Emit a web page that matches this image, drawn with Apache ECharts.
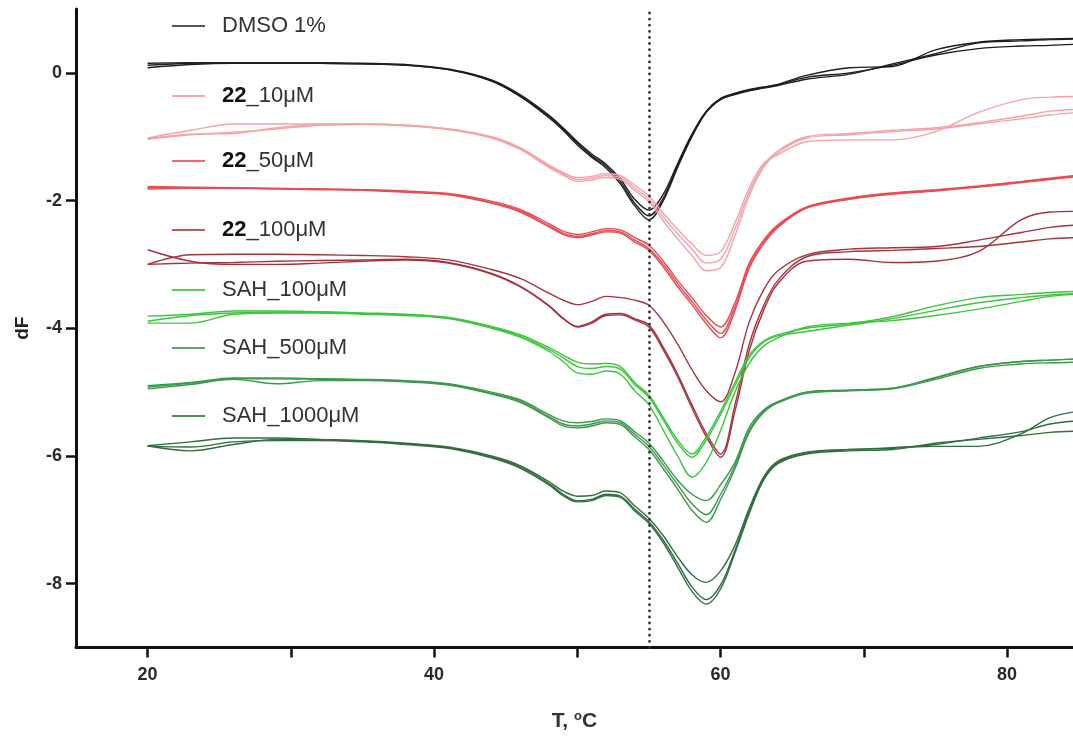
<!DOCTYPE html>
<html><head><meta charset="utf-8">
<script src="https://cdn.jsdelivr.net/npm/echarts@6/dist/echarts.min.js"></script>
<style>html,body{margin:0;padding:0;background:#fff}#c{width:1073px;height:737px}</style>
</head><body><div id="c"></div>
<script>
// Temperature grid (°C)
const temps = [20,23,26,29,32,35,38,41,44,46,48,49,50,51,52,53,54,55,56,57,58,59,60,61,62,63,64,66,69,72,75,78,81,83,85];
// Tick values
const xTickLabels = [20,40,60,80];
const xTicks = [20,30,40,50,60,70,80];
const yTickLabels = [0,-2,-4,-6,-8];
const refTemp = 55;
// Conditions (legend names)
const names = ['DMSO 1%','22_10μM','22_50μM','22_100μM','SAH_100μM','SAH_500μM','SAH_1000μM'];

// dF replicates
const dmsoA = [0.15,0.16,0.16,0.16,0.16,0.15,0.13,0.06,-0.11,-0.34,-0.66,-0.86,-1.08,-1.27,-1.43,-1.66,-1.98,-2.15,-1.9,-1.42,-0.96,-0.6,-0.4,-0.32,-0.26,-0.22,-0.18,-0.04,0.08,0.1,0.36,0.48,0.52,0.53,0.54];
const dmsoB = [0.08,0.13,0.15,0.15,0.15,0.14,0.12,0.05,-0.13,-0.37,-0.7,-0.9,-1.13,-1.32,-1.49,-1.74,-2.08,-2.3,-2.0,-1.48,-1.0,-0.62,-0.42,-0.34,-0.28,-0.24,-0.2,-0.1,-0.02,0.14,0.3,0.47,0.5,0.52,0.53];
const dmsoC = [0.12,0.15,0.16,0.15,0.15,0.14,0.12,0.05,-0.12,-0.36,-0.68,-0.88,-1.1,-1.3,-1.46,-1.7,-2.04,-2.24,-1.96,-1.45,-0.98,-0.61,-0.41,-0.33,-0.27,-0.23,-0.19,-0.07,0.0,0.12,0.28,0.38,0.42,0.43,0.45];

const c10A = [-1.02,-0.9,-0.8,-0.8,-0.8,-0.8,-0.82,-0.88,-1.0,-1.17,-1.44,-1.56,-1.64,-1.62,-1.58,-1.61,-1.76,-1.93,-2.2,-2.45,-2.68,-2.86,-2.8,-2.35,-1.8,-1.42,-1.28,-1.08,-1.05,-1.05,-0.92,-0.62,-0.42,-0.38,-0.37];
const c10B = [-1.03,-0.96,-0.95,-0.86,-0.81,-0.8,-0.82,-0.88,-1.01,-1.18,-1.46,-1.58,-1.67,-1.65,-1.61,-1.64,-1.8,-1.98,-2.26,-2.52,-2.76,-2.98,-2.92,-2.45,-1.86,-1.45,-1.22,-1.0,-0.95,-0.9,-0.86,-0.78,-0.68,-0.6,-0.57];
const c10C = [-1.04,-0.97,-0.93,-0.88,-0.82,-0.81,-0.83,-0.89,-1.02,-1.2,-1.48,-1.6,-1.7,-1.68,-1.64,-1.67,-1.84,-2.02,-2.32,-2.6,-2.86,-3.1,-3.05,-2.55,-1.92,-1.48,-1.25,-1.02,-0.97,-0.92,-0.88,-0.8,-0.72,-0.66,-0.62];

const c50A = [-1.78,-1.79,-1.8,-1.81,-1.82,-1.83,-1.85,-1.89,-2.01,-2.14,-2.36,-2.48,-2.53,-2.49,-2.44,-2.46,-2.58,-2.7,-2.95,-3.25,-3.52,-3.8,-3.98,-3.6,-2.98,-2.62,-2.38,-2.1,-1.96,-1.88,-1.83,-1.77,-1.7,-1.65,-1.6];
const c50B = [-1.8,-1.8,-1.8,-1.81,-1.82,-1.83,-1.86,-1.9,-2.03,-2.16,-2.39,-2.51,-2.56,-2.52,-2.47,-2.49,-2.62,-2.75,-3.0,-3.3,-3.58,-3.87,-4.08,-3.66,-3.02,-2.65,-2.4,-2.11,-1.97,-1.89,-1.84,-1.78,-1.71,-1.66,-1.61];
const c50C = [-1.82,-1.81,-1.81,-1.82,-1.83,-1.84,-1.87,-1.91,-2.04,-2.18,-2.41,-2.53,-2.58,-2.54,-2.49,-2.51,-2.65,-2.78,-3.04,-3.35,-3.63,-3.93,-4.15,-3.72,-3.06,-2.68,-2.42,-2.12,-1.98,-1.9,-1.85,-1.79,-1.72,-1.67,-1.62];

const c100A = [-3.0,-2.85,-2.84,-2.84,-2.85,-2.86,-2.88,-2.93,-3.08,-3.22,-3.45,-3.56,-3.63,-3.58,-3.5,-3.52,-3.56,-3.64,-3.9,-4.25,-4.65,-4.98,-5.15,-4.7,-3.9,-3.4,-3.1,-2.85,-2.76,-2.74,-2.72,-2.62,-2.5,-2.42,-2.38];
const c100B = [-2.77,-2.95,-3.0,-3.0,-2.98,-2.95,-2.93,-2.98,-3.15,-3.35,-3.65,-3.85,-3.97,-3.9,-3.78,-3.77,-3.85,-3.95,-4.3,-4.72,-5.2,-5.65,-5.97,-5.2,-4.25,-3.65,-3.25,-2.88,-2.8,-2.78,-2.75,-2.72,-2.65,-2.6,-2.58];
const c100C = [-3.0,-2.98,-2.97,-2.95,-2.94,-2.93,-2.92,-2.97,-3.14,-3.34,-3.64,-3.84,-3.98,-3.92,-3.8,-3.79,-3.87,-3.98,-4.34,-4.76,-5.25,-5.7,-6.02,-5.3,-4.35,-3.72,-3.3,-2.95,-2.92,-2.97,-2.95,-2.8,-2.3,-2.18,-2.17];

const s100A = [-3.81,-3.78,-3.73,-3.73,-3.74,-3.76,-3.78,-3.83,-3.97,-4.1,-4.3,-4.42,-4.53,-4.56,-4.55,-4.6,-4.85,-5.05,-5.4,-5.75,-5.97,-5.7,-5.3,-4.85,-4.42,-4.2,-4.1,-4.0,-3.93,-3.82,-3.65,-3.52,-3.47,-3.44,-3.42];
const s100B = [-3.89,-3.8,-3.76,-3.75,-3.75,-3.77,-3.79,-3.84,-3.98,-4.12,-4.33,-4.46,-4.6,-4.63,-4.6,-4.64,-4.88,-5.08,-5.44,-5.8,-6.02,-5.75,-5.35,-4.9,-4.46,-4.22,-4.12,-4.05,-3.95,-3.85,-3.72,-3.6,-3.52,-3.48,-3.45];
const s100C = [-3.92,-3.92,-3.78,-3.76,-3.76,-3.78,-3.8,-3.85,-4.0,-4.14,-4.36,-4.52,-4.7,-4.72,-4.67,-4.72,-4.98,-5.2,-5.6,-6.0,-6.33,-6.1,-5.6,-5.0,-4.55,-4.28,-4.15,-3.98,-3.92,-3.88,-3.8,-3.7,-3.58,-3.5,-3.47];

const s500A = [-4.9,-4.85,-4.78,-4.78,-4.79,-4.8,-4.82,-4.87,-5.0,-5.12,-5.35,-5.45,-5.48,-5.46,-5.42,-5.45,-5.62,-5.8,-6.08,-6.38,-6.6,-6.7,-6.45,-6.1,-5.55,-5.28,-5.15,-5.0,-4.97,-4.94,-4.77,-4.6,-4.52,-4.5,-4.48];
const s500B = [-4.92,-4.86,-4.79,-4.79,-4.8,-4.81,-4.83,-4.88,-5.02,-5.14,-5.38,-5.5,-5.53,-5.5,-5.45,-5.48,-5.66,-5.85,-6.14,-6.45,-6.75,-6.92,-6.6,-6.15,-5.6,-5.3,-5.16,-5.0,-4.97,-4.94,-4.78,-4.6,-4.52,-4.5,-4.48];
const s500C = [-4.95,-4.88,-4.8,-4.87,-4.82,-4.82,-4.84,-4.89,-5.03,-5.16,-5.4,-5.53,-5.56,-5.53,-5.48,-5.51,-5.7,-5.9,-6.2,-6.52,-6.85,-7.04,-6.68,-6.2,-5.63,-5.32,-5.17,-5.02,-4.98,-4.95,-4.8,-4.63,-4.56,-4.54,-4.53];

const s1000A = [-5.84,-5.78,-5.72,-5.72,-5.74,-5.76,-5.8,-5.86,-6.0,-6.15,-6.4,-6.55,-6.63,-6.62,-6.55,-6.58,-6.78,-6.98,-7.25,-7.58,-7.86,-7.98,-7.8,-7.4,-6.82,-6.33,-6.08,-5.94,-5.9,-5.88,-5.85,-5.85,-5.65,-5.4,-5.3];
const s1000B = [-5.84,-5.92,-5.82,-5.74,-5.75,-5.77,-5.81,-5.87,-6.02,-6.17,-6.43,-6.6,-6.7,-6.68,-6.6,-6.63,-6.83,-7.03,-7.32,-7.68,-8.05,-8.25,-8.02,-7.48,-6.86,-6.36,-6.1,-5.95,-5.9,-5.87,-5.82,-5.72,-5.62,-5.5,-5.45];
const s1000C = [-5.85,-5.86,-5.78,-5.76,-5.76,-5.78,-5.82,-5.88,-6.03,-6.19,-6.45,-6.62,-6.72,-6.7,-6.62,-6.65,-6.86,-7.06,-7.36,-7.74,-8.12,-8.32,-8.08,-7.52,-6.9,-6.38,-6.12,-5.97,-5.92,-5.9,-5.8,-5.74,-5.68,-5.63,-5.61];

const groups = [
  {name: names[0], color: '#1e1e1e', legendColor: '#555', reps: [dmsoA, dmsoB, dmsoC], legendY: 28},
  {name: names[1], color: '#f4a2a8', legendColor: '#f6aab0', reps: [c10A, c10B, c10C], legendY: 98},
  {name: names[2], color: '#ec4a52', legendColor: '#ee6a70', reps: [c50A, c50B, c50C], legendY: 163},
  {name: names[3], color: '#a8323c', legendColor: '#b85a62', reps: [c100A, c100B, c100C], legendY: 232},
  {name: names[4], color: '#3cc63c', legendColor: '#5acc5a', reps: [s100A, s100B, s100C], legendY: 292},
  {name: names[5], color: '#3a9a4a', legendColor: '#5aa866', reps: [s500A, s500B, s500C], legendY: 350},
  {name: names[6], color: '#2f6e3e', legendColor: '#4f8a5c', reps: [s1000A, s1000B, s1000C], legendY: 418}
];

const series = [];
groups.forEach((g, gi) => {
  g.reps.forEach((r, ri) => {
    const s = {
      name: g.name, type: 'line', smooth: 0.35, symbol: 'none',
      data: temps.map((t, i) => [t, r[i]]),
      lineStyle: {width: 1.4, color: g.color}, itemStyle: {color: g.legendColor},
      z: 3
    };
    if (gi === 0 && ri === 0) {
      s.markLine = {
        silent: true, symbol: 'none', label: {show: false},
        lineStyle: {type: [0.1, 6], color: '#333', width: 2.8, cap: 'round'},
        data: [{xAxis: refTemp}]
      };
    }
    series.push(s);
  });
});

const legends = groups.map(g => ({
  data: [g.name], left: 172, top: g.legendY - 13, padding: 0,
  icon: 'rect', itemWidth: 33, itemHeight: 2, itemGap: 0,
  selectedMode: false,
  formatter: n => n.startsWith('22') ? '{b|22}{n|' + n.slice(2) + '}' : '{n|' + n + '}',
  textStyle: {
    padding: [0, 0, 0, 12],
    rich: {
      b: {fontFamily: 'Liberation Sans', fontSize: 22, fontWeight: 'bold', color: '#111'},
      n: {fontFamily: 'Liberation Sans', fontSize: 22, color: '#333'}
    }
  }
}));

const chart = echarts.init(document.getElementById('c'), null, {renderer: 'canvas'});
chart.setOption({
  animation: false,
  backgroundColor: '#fff',
  grid: {left: 76, right: 0, top: 9, bottom: 89},
  legend: legends,
  xAxis: {
    type: 'value', min: 15, max: 84.6,
    name: 'T, {s|o}C', nameLocation: 'middle', nameGap: 62,
    nameTextStyle: {fontFamily: 'Liberation Sans', fontSize: 21, fontWeight: 'bold', color: '#333',
      rich: {s: {fontSize: 13, fontWeight: 'bold', verticalAlign: 'top', padding: [0,0,11,0], color: '#333'}}},
    axisLine: {onZero: false, lineStyle: {color: '#111', width: 3}},
    axisTick: {show: true, customValues: xTicks, length: 10, lineStyle: {width: 2.5, color: '#111'}},
    axisLabel: {customValues: xTickLabels, fontFamily: 'Liberation Sans', fontSize: 18, fontWeight: 'bold', color: '#2a2a2a', margin: 19},
    splitLine: {show: false}
  },
  yAxis: {
    type: 'value', min: -9, max: 1,
    name: 'dF', nameLocation: 'middle', nameGap: 44,
    nameTextStyle: {fontFamily: 'Liberation Sans', fontSize: 19, fontWeight: 'bold', color: '#222'},
    axisLine: {show: true, onZero: false, lineStyle: {color: '#111', width: 3}},
    axisTick: {show: true, customValues: yTickLabels, length: 10, lineStyle: {width: 2.5, color: '#111'}},
    axisLabel: {customValues: yTickLabels, fontFamily: 'Liberation Sans', fontSize: 18, fontWeight: 'bold', color: '#2a2a2a', margin: 14},
    splitLine: {show: false}
  },
  series: series
});
</script></body></html>
